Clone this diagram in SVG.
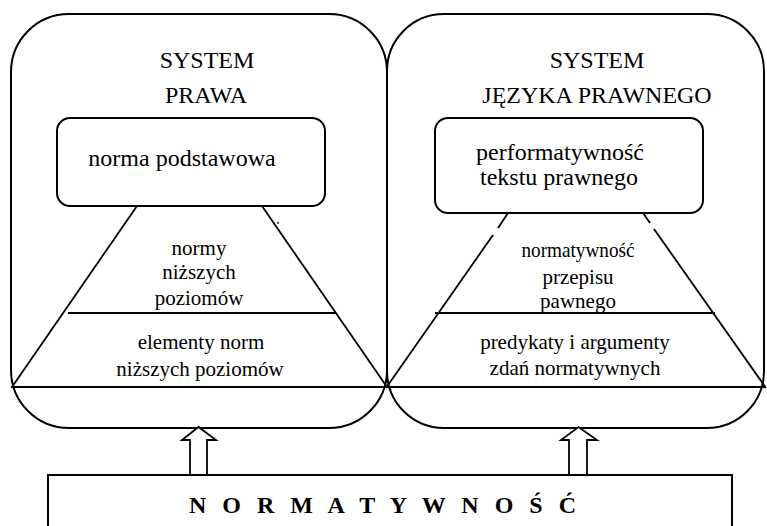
<svg xmlns="http://www.w3.org/2000/svg" width="767" height="526" viewBox="0 0 767 526">
  <style>
    .frame { fill: none; stroke: #000; stroke-width: 2; }
    .edge { fill: none; stroke: #000; stroke-width: 1.8; }
    text { fill: #000; }
    .title { font-size: 24px; text-anchor: middle; }
    .label { font-size: 21px; text-anchor: middle; }
    .banner { font-size: 24px; font-weight: bold; }
    .arrow { fill: #fff; stroke: #000; stroke-width: 1.8; stroke-linejoin: miter; }
  </style>
  <rect width="767" height="526" fill="#fff"/>

  <g font-family="'Liberation Serif', 'DejaVu Serif', serif">
  <!-- left system: law -->
  <g id="system-prawa">
    <rect class="frame" x="11" y="14" width="376" height="414" rx="58" ry="58"/>
    <text class="title" x="207" y="68">SYSTEM</text>
    <text class="title" x="206" y="103">PRAWA</text>
  </g>
  <g id="norma-podstawowa">
    <rect class="frame" x="57" y="118" width="268" height="88" rx="13" ry="13"/>
    <text class="title" x="182" y="166">norma podstawowa</text>
  </g>
  <g id="piramida-prawa">
    <line class="edge" x1="137" y1="206" x2="12" y2="387"/>
    <line class="edge" x1="262" y1="206" x2="387" y2="387"/>
    <line class="edge" x1="11" y1="387" x2="387" y2="387"/>
    <line class="edge" x1="68" y1="313" x2="336" y2="313"/>
    <circle cx="278" cy="223" r="0.9" fill="#000"/>
    <text class="label" x="199" y="255">normy</text>
    <text class="label" x="199" y="279">niższych</text>
    <text class="label" x="199" y="305">poziomów</text>
    <text class="label" x="201" y="349">elementy norm</text>
    <text class="label" x="200" y="376">niższych poziomów</text>
  </g>

  <!-- right system: legal language -->
  <g id="system-jezyka">
    <rect class="frame" x="387" y="14" width="377" height="414" rx="57" ry="57"/>
    <text class="title" x="597" y="68">SYSTEM</text>
    <text class="title" x="597" y="103">JĘZYKA PRAWNEGO</text>
  </g>
  <g id="performatywnosc">
    <rect class="frame" x="435" y="118" width="268" height="95" rx="13" ry="13"/>
    <text class="title" x="560" y="160">performatywność</text>
    <text class="title" x="559" y="185">tekstu prawnego</text>
  </g>
  <g id="piramida-jezyka">
    <line class="edge" x1="508" y1="213" x2="498" y2="228"/>
    <line class="edge" x1="493" y1="235" x2="386" y2="388"/>
    <line class="edge" x1="643" y1="213" x2="650" y2="223"/>
    <line class="edge" x1="654" y1="229" x2="766" y2="388"/>
    <line class="edge" x1="386" y1="387" x2="766" y2="387"/>
    <line class="edge" x1="435" y1="313" x2="715" y2="313"/>
    <text class="label" x="578" y="257" textLength="113" lengthAdjust="spacingAndGlyphs">normatywność</text>
    <text class="label" x="578" y="284">przepisu</text>
    <text class="label" x="578" y="308">pawnego</text>
    <text class="label" x="575" y="349">predykaty i argumenty</text>
    <text class="label" x="575" y="375">zdań normatywnych</text>
  </g>

  <!-- base box -->
  <g id="normatywnosc">
    <rect class="frame" x="48" y="475" width="684" height="70"/>
    <text class="banner" x="189" y="513" textLength="387" lengthAdjust="spacing">N O R M A T Y W N O Ś Ć</text>
  </g>
  </g>

  <!-- hollow block arrows from the base up into each system -->
  <g id="connectors">
    <polygon class="arrow" points="190,475 190,440 182,440 198.5,427 216,440 207,440 207,475"/>
    <polygon class="arrow" points="569,475 569,440 561,440 578.5,427 597,440 587,440 587,475"/>
  </g>
</svg>
